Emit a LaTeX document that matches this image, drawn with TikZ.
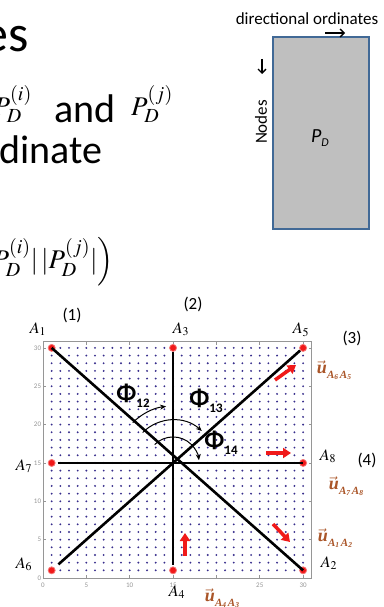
\documentclass[tikz,border=0pt]{standalone}
\usepackage{mathptmx}
\usepackage{fontspec}
\setmainfont{Carlito}
\newfontfamily\tms{Liberation Serif}
\usetikzlibrary{arrows.meta}
\definecolor{dotblue}{RGB}{55,45,140}
\definecolor{axisgray}{RGB}{150,150,150}
\definecolor{ured}{RGB}{240,25,25}
\definecolor{ubrown}{RGB}{170,85,40}
\definecolor{boxfill}{RGB}{191,191,191}
\definecolor{boxline}{RGB}{65,105,150}
\newcommand\fs[1]{\fontsize{#1}{#1}\selectfont}
\newcommand\alab[1]{$A_{#1}$}
\newcommand\phil[1]{{\bfseries Φ}\raisebox{-0.5ex}{\fs{13}\bfseries #1}}
\newcommand\uvec[2]{\ensuremath{\vec{\hbox{\tms\bfseries\itshape u}}}\raisebox{-0.55ex}{\fs{11}\tms\bfseries\itshape A\raisebox{-0.3ex}{\fs{7.5}#1}\,A\raisebox{-0.3ex}{\fs{7.5}#2}}}
\tikzset{
  bigtxt/.style={inner sep=0pt,font=\fs{40}},
  smalltxt/.style={inner sep=0pt,font=\fs{17}},
  mathtxt/.style={inner sep=0pt,font=\fs{27}},
  alabel/.style={inner sep=0pt,font=\fs{16}},
  ulabel/.style={inner sep=0pt,text=ubrown,font=\fs{18}},
  philabel/.style={inner sep=0pt,font=\fs{25}},
  reddot/.style={circle,fill=ured,draw=ured!60,line width=0.8pt,inner sep=0pt,minimum size=7pt},
  bigline/.style={line width=2.6pt,black},
  redarrow/.style={ured,line width=3.5pt,-{Triangle[length=8pt,width=10pt]}},
  anglearc/.style={black,line width=1pt,-{Stealth[length=6pt,width=5pt]}},
  ticklab/.style={inner sep=0pt,text=axisgray,font=\fs{7}},
}
\begin{document}
\begin{tikzpicture}[x=1pt,y=-1pt]
\useasboundingbox (0,0) rectangle (383,607);
\clip (0,0) rectangle (383,607);
\fill[white] (0,0) rectangle (383,607);
% left text
\node[inner sep=0pt,font=\fs{52},anchor=base east] (t1) at (29,52) {es};
\node[mathtxt,anchor=base east] (t2a) at (32,115) {$P_D^{(i)}$};
\node[bigtxt,anchor=base west] (t2b) at (54,122) {and};
\node[mathtxt,anchor=base west] (t2c) at (131,115) {$P_D^{(j)}$};
\node[bigtxt,anchor=base west] (t3) at (-1,163) {dinate};
\node[mathtxt,anchor=base east] (t4) at (114,268) {$P_D^{(i)}|\,|P_D^{(j)}|\Bigr)$};
% top right
\node[smalltxt,anchor=base] (dir) at (307,25) {directional ordinates};
\node[draw=boxline,fill=boxfill,line width=2pt,minimum width=96pt,minimum height=192pt,inner sep=0pt] (PD) at (321,133) {};
\node[inner sep=0pt,font=\fs{20}] (pdl) at (320,138) {\itshape P\raisebox{-0.5ex}{\fs{12}\itshape D}};
\node[smalltxt,rotate=90] (nodes) at (261,122) {Nodes};
\coordinate (ra1) at (325,33); \coordinate (ra2) at (345,33);
\draw[line width=1.3pt,-{Straight Barb[length=4pt,width=8pt]}] (ra1) -- (ra2);
\coordinate (da1) at (262,59); \coordinate (da2) at (262,74);
\draw[line width=1.3pt,-{Straight Barb[length=4pt,width=8pt]}] (da1) -- (da2);
% plot
\begin{scope}[shift={(43,578)},x=8.67pt,y=7.67pt]
  \foreach \i in {1,...,30}
    \foreach \j in {1,...,30}
      \fill[dotblue] (\i,\j) circle (1.05pt);
  \draw[axisgray,line width=1pt] (0,0) rectangle (31,30.8);
  \foreach \t in {5,10,...,30} {
    \draw[axisgray,line width=0.6pt] (\t,0) -- ++(0,0.4);
    \draw[axisgray,line width=0.6pt] (\t,30.8) -- ++(0,-0.4);
    \draw[axisgray,line width=0.6pt] (0,\t) -- ++(0.35,0);
    \draw[axisgray,line width=0.6pt] (31,\t) -- ++(-0.35,0);
  }
  \foreach \t in {0,5,10,15,25,30}
    \node[ticklab,anchor=north] at (\t,-0.6) {\t};
  \foreach \t in {0,5,...,30}
    \node[ticklab,anchor=east] at (-0.2,\t) {\t};
  \coordinate (C) at (15,15);
  \node[reddot] (A1) at (1,30) {};
  \node[reddot] (A2) at (30,1) {};
  \node[reddot] (A3) at (15,30) {};
  \node[reddot] (A4) at (15,1) {};
  \node[reddot] (A5) at (30,30) {};
  \node[reddot] (A6) at (1,1) {};
  \node[reddot] (A7) at (1,15) {};
  \node[reddot] (A8) at (30,15) {};
\end{scope}
\draw[bigline] (A1.center) -- (A2.center);
\draw[bigline,shorten <=4pt,shorten >=5pt] (A3.center) -- (A4.center);
\draw[bigline,shorten <=4pt,shorten >=9pt] (A5.center) -- (A6.center);
\draw[bigline,shorten <=6pt] (A7.center) -- (A8.center);
% angle arcs
\draw[anglearc] ([shift={(135:57pt)}]C) arc[start angle=135,end angle=97,radius=57pt];
\draw[anglearc] ([shift={(135:43pt)}]C) arc[start angle=135,end angle=48,radius=43pt];
\draw[anglearc] ([shift={(135:26pt)}]C) arc[start angle=135,end angle=6,radius=26pt];
\node[philabel] (p12) at (133,396) {\phil{12}};
\node[philabel] (p13) at (206,401) {\phil{13}};
\node[philabel] (p14) at (221,443) {\phil{14}};
% point labels
\node[alabel] (l1) at (38,329) {\alab{1}};
\node[alabel] (l3) at (181,329) {\alab{3}};
\node[alabel] (l5) at (301,330) {\alab{5}};
\node[alabel] (l7) at (24,466) {\alab{7}};
\node[alabel] (l8) at (328,456) {\alab{8}};
\node[alabel] (l6) at (24,564) {\alab{6}};
\node[alabel] (l2) at (329,563) {\alab{2}};
\node[alabel] (l4) at (177,592) {\alab{4}};
\node[smalltxt] (n1) at (72,315) {(1)};
\node[smalltxt] (n2) at (193,304) {(2)};
\node[smalltxt] (n3) at (352,338) {(3)};
\node[smalltxt] (n4) at (367,460) {(4)};
% unit vectors
\node[ulabel] (u65) at (334,370) {\uvec{6}{5}};
\node[ulabel] (u78) at (346,486) {\uvec{7}{8}};
\node[ulabel] (u12) at (335,538) {\uvec{1}{2}};
\node[ulabel] (u43) at (222,598) {\uvec{4}{3}};
\coordinate (r1a) at (275,380); \coordinate (r1b) at (296,365);
\coordinate (r2a) at (266,453); \coordinate (r2b) at (291,453);
\coordinate (r3a) at (273,524); \coordinate (r3b) at (290,542);
\coordinate (r4a) at (185,556); \coordinate (r4b) at (185,533);
\draw[redarrow] (r1a) -- (r1b);
\draw[redarrow] (r2a) -- (r2b);
\draw[redarrow] (r3a) -- (r3b);
\draw[redarrow] (r4a) -- (r4b);
\end{tikzpicture}
\end{document}
